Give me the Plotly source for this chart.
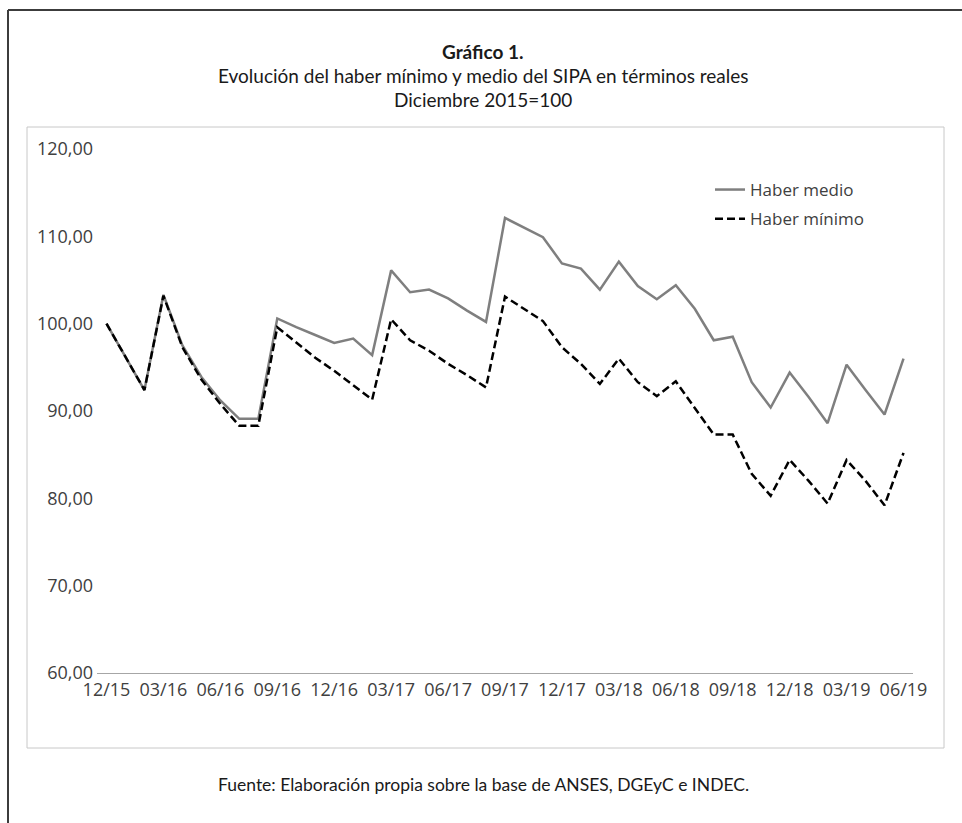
import plotly.graph_objects as go

# ---- data ----
tick_labels = ["12/15", "03/16", "06/16", "09/16", "12/16", "03/17", "06/17", "09/17",
               "12/17", "03/18", "06/18", "09/18", "12/18", "03/19", "06/19"]

haber_medio = [100.0, 96.2, 92.4, 103.3, 97.5, 93.9, 91.2, 89.1, 89.1, 100.6,
               99.6, 98.7, 97.8, 98.3, 96.4, 106.1, 103.6, 103.9, 102.9, 101.5,
               100.2, 112.1, 111.0, 109.9, 106.9, 106.3, 103.9, 107.1, 104.3, 102.8,
               104.4, 101.7, 98.1, 98.5, 93.3, 90.4, 94.4, 91.6, 88.6, 95.3,
               92.4, 89.6, 96.0]

haber_minimo = [100.0, 96.2, 92.4, 103.2, 97.3, 93.6, 90.8, 88.3, 88.3, 99.6,
                97.8, 96.1, 94.6, 93.0, 91.3, 100.5, 98.1, 96.9, 95.4, 94.1,
                92.7, 103.1, 101.7, 100.3, 97.3, 95.4, 93.1, 96.0, 93.3, 91.7,
                93.4, 90.4, 87.3, 87.3, 82.8, 80.3, 84.4, 82.0, 79.4, 84.4,
                82.0, 79.2, 85.2]

months = list(range(len(haber_medio)))
tick_positions = list(range(0, len(haber_medio), 3))
y_ticks = [60, 70, 80, 90, 100, 110, 120]

# ---- layout geometry (pixels) ----
W, H = 962, 823
L, R, T, B = 97, 913, 149, 673
PW, PH = R - L, B - T


def px(xp):
    return (xp - L) / PW


def py(yp):
    return (B - yp) / PH


fig = go.Figure()
fig.add_trace(go.Scatter(
    x=months, y=haber_medio, mode="lines", name="Haber medio", legendgroup="a",
    line=dict(color="#7f7f7f", width=2.5)))
fig.add_trace(go.Scatter(
    x=months, y=haber_minimo, mode="lines", name="Haber mínimo", legendgroup="b",
    line=dict(color="#000000", width=2.5, dash="8px,4px")))

tick_font = dict(family="Open Sans, sans-serif", size=18, color="#404040")

fig.update_layout(
    width=W, height=H,
    margin=dict(l=L, r=W - R, t=T, b=H - B, pad=0),
    paper_bgcolor="white", plot_bgcolor="white",
    showlegend=True,
    legend=dict(x=px(710), y=py(172), xanchor="left", yanchor="top",
                bgcolor="rgba(0,0,0,0)", traceorder="grouped",
                font=dict(family="Open Sans, sans-serif", size=17, color="#404040"),
                tracegroupgap=4),
    xaxis=dict(range=[-0.5, len(months) - 0.5], tickmode="array",
               tickvals=tick_positions, ticktext=tick_labels,
               showgrid=False, zeroline=False, showline=True,
               linecolor="#a6a6a6", linewidth=1, ticks="",
               tickfont=tick_font, fixedrange=True),
    yaxis=dict(range=[60, 120], tickmode="array", tickvals=y_ticks,
               ticktext=[f"{v},00" for v in y_ticks],
               showgrid=False, zeroline=False, showline=False, ticks="",
               ticklabelstandoff=3,
               tickfont=tick_font, fixedrange=True),
)

title_font = "Lato, sans-serif"
cx = px(483)
fig.add_annotation(x=cx, y=py(38), xref="paper", yref="paper", showarrow=False,
                   text="<b>Gráfico 1.</b>", font=dict(family=title_font, size=19, color="#1a1a1a"))
fig.add_annotation(x=cx, y=py(62), xref="paper", yref="paper", showarrow=False,
                   text="Evolución del haber mínimo y medio del SIPA en términos reales",
                   font=dict(family=title_font, size=19, color="#1a1a1a"))
fig.add_annotation(x=cx, y=py(86), xref="paper", yref="paper", showarrow=False,
                   text="Diciembre 2015=100", font=dict(family=title_font, size=19, color="#1a1a1a"))
fig.add_annotation(x=cx, y=py(797), xref="paper", yref="paper", showarrow=False,
                   text="Fuente: Elaboración propia sobre la base de ANSES, DGEyC e INDEC.",
                   font=dict(family=title_font, size=17.5, color="#1a1a1a"))

# frames
fig.add_shape(type="line", xref="paper", yref="paper", x0=px(8), x1=px(962), y0=py(10), y1=py(10),
              line=dict(color="#3c3c3c", width=2))
fig.add_shape(type="line", xref="paper", yref="paper", x0=px(8), x1=px(8), y0=py(10), y1=py(823),
              line=dict(color="#3c3c3c", width=2))
fig.add_shape(type="rect", xref="paper", yref="paper", x0=px(27), x1=px(944), y0=py(127), y1=py(748),
              line=dict(color="#c8c8c8", width=1), layer="below")

fig.write_html("out.html")
